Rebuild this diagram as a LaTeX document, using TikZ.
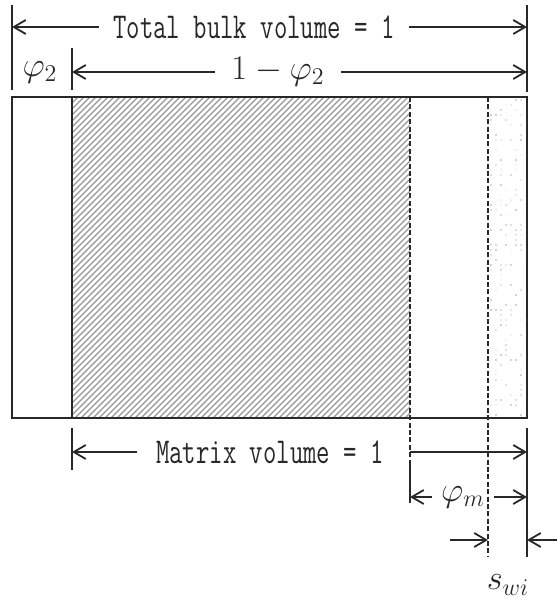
\documentclass[tikz,border=0pt]{standalone}
\usepackage{amsmath}
\usepackage{graphicx}
\usepackage{tikz}
\usetikzlibrary{arrows.meta,calc}
\definecolor{inkgray}{RGB}{40,40,40}
\definecolor{hatchgray}{RGB}{150,150,150}
\newcommand{\monotext}[1]{\scalebox{1}[1.4]{\ttfamily #1}}

\begin{document}
\begin{tikzpicture}[x=0.5pt, y=-0.5pt, line width=0.9pt, color=inkgray,
  dim/.style={-{Straight Barb[length=6pt,width=7pt]}},
  guide/.style={line width=0.8pt, dash pattern=on 2.5pt off 1.2pt},
  label/.style={font=\fontsize{13}{15}\selectfont, inner sep=7pt},
  mathlabel/.style={font=\fontsize{16.5}{19}\selectfont, inner sep=4pt}]
  \useasboundingbox (0,0) rectangle (557,602);

  % Key coordinates of the block
  \coordinate (blocktl) at (12,97);
  \coordinate (blockbr) at (527,418);
  \coordinate (poretop) at (72,97);
  \coordinate (porebot) at (72,418);
  \coordinate (matrixtop) at (410,97);
  \coordinate (matrixfoot) at (410,503);
  \coordinate (watertop) at (488,97);
  \coordinate (waterfoot) at (488,557);

  % Hatched matrix
  \begin{scope}
    \clip (poretop) rectangle (matrixtop |- blockbr);
    \foreach \k in {0,6,...,700}
      \draw[hatchgray, line width=0.55pt] (72+\k,97) -- ++(-330,330);
  \end{scope}

  % Dotted irreducible water
  \pgfmathsetseed{7}
  \foreach \i in {0,...,6}
    \foreach \j in {0,...,63}{
      \pgfmathsetmacro{\dotop}{rnd<0.6 ? 0 : rnd}
      \fill[black, opacity=0.25*\dotop] (491+5*\i, 100+5*\j) circle (0.6pt);
    }

  % Block outline
  \draw[line width=1pt] (blocktl) rectangle (blockbr);
  \draw (poretop) -- (porebot);
  \draw[guide] (matrixtop) -- (matrixfoot);
  \draw (matrixfoot) -- ++(0,-40);
  \draw[guide] (watertop) -- (waterfoot);

  % Extension lines
  \coordinate (eL1) at (12,5);
  \coordinate (eL2) at (12,90);
  \coordinate (eR1) at (527,5);
  \coordinate (eR2) at (527,92);
  \coordinate (eA1) at (72,48);
  \coordinate (eA2) at (72,90);
  \coordinate (bA1) at (72,428);
  \coordinate (bA2) at (72,470);
  \coordinate (bR1) at (527,428);
  \coordinate (bR2) at (527,557);
  \draw (eL1) -- (eL2);
  \draw (eR1) -- (eR2);
  \draw (eA1) -- (eA2);
  \draw (bA1) -- (bA2);
  \draw (bR1) -- (bR2);

  % Total bulk volume
  \node[label] (bulk) at (254,27) {\monotext{Total bulk volume = 1}};
  \draw[dim] (bulk.west) -- (eL1 |- bulk);
  \draw[dim] (bulk.east) -- (eR1 |- bulk);

  % Porosity split
  \node[mathlabel] (phitwo) at (40,72) {$\varphi_2$};
  \node[mathlabel, inner sep=8pt] (matrixfrac) at (278,72) {$1-\varphi_2$};
  \draw[dim] (matrixfrac.west) -- (eA1 |- matrixfrac);
  \draw[dim] (matrixfrac.east) -- (eR1 |- matrixfrac);

  % Matrix volume
  \node[label, inner sep=9pt] (matrixvol) at (270,452) {\monotext{Matrix volume = 1}};
  \draw[dim] (matrixvol.west) -- (bA1 |- matrixvol);
  \draw[dim] (matrixfoot |- matrixvol) -- (bR1 |- matrixvol);

  % Matrix porosity
  \node[mathlabel, inner sep=4pt] (phim) at (463,497) {$\varphi_m$};
  \draw[dim] (phim.west) -- (matrixfoot |- phim);
  \draw[dim] (phim.east) -- (bR1 |- phim);

  % Irreducible water saturation
  \coordinate (swiL) at (450,540);
  \coordinate (swiR) at (557,540);
  \draw[dim] (swiL) -- (waterfoot |- swiL);
  \draw[dim] (swiR) -- (bR1 |- swiL);
  \node[mathlabel] (swi) at (508,585) {$s_{wi}$};
\end{tikzpicture}
\end{document}
